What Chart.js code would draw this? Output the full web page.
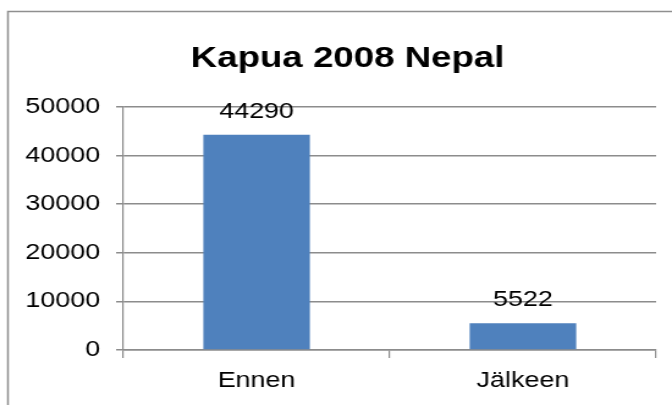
<!DOCTYPE html>
<html>
<head>
<meta charset="utf-8">
<script src="https://cdn.jsdelivr.net/npm/chart.js@4/dist/chart.umd.min.js"></script>
<style>
	html, body { margin: 0; padding: 0; background: #fff; }
	#chart { display: block; }
</style>
</head>
<body>
<!-- drawn narrower and widened by CSS, so the text gets the wide look of the original export -->
<canvas id="chart" width="550" height="405" style="width:672px;height:405px"></canvas>
<script>
// Chart data
const categories = ['Ennen', 'Jälkeen'];
const values = [44290, 5522];
const yTicks = [0, 10000, 20000, 30000, 40000, 50000];
const chartTitle = 'Kapua 2008 Nepal';

const FONT = '"Liberation Sans", Arial, sans-serif';
const GRID = '#8c8c8c';

// White background, thin grey frame (right and bottom edges run off the page) and the title
const frame = {
	id: 'frame',
	beforeDraw(chart) {
		const ctx = chart.ctx;
		ctx.save();
		ctx.fillStyle = '#fff';
		ctx.fillRect(0, 0, chart.width, chart.height);
		ctx.strokeStyle = '#8f8f8f';
		ctx.lineWidth = 1.5;
		ctx.strokeRect(6.5, 11.5, chart.width + 20, chart.height + 20);

		ctx.fillStyle = '#000';
		ctx.font = `bold 30px ${FONT}`;
		ctx.textAlign = 'center';
		ctx.textBaseline = 'alphabetic';
		ctx.fillText(chartTitle, 284.5, 67);
		ctx.restore();
	}
};

// Value printed above every bar
const barValues = {
	id: 'barValues',
	afterDatasetsDraw(chart) {
		const ctx = chart.ctx;
		const meta = chart.getDatasetMeta(0);
		ctx.save();
		ctx.font = `22px ${FONT}`;
		ctx.fillStyle = '#000';
		ctx.textAlign = 'center';
		ctx.textBaseline = 'alphabetic';
		meta.data.forEach((bar, i) => {
			ctx.fillText(String(values[i]), bar.x, bar.y - 17);
		});
		ctx.restore();
	}
};

new Chart(document.getElementById('chart'), {
	type: 'bar',
	data: {
		labels: categories,
		datasets: [{
			data: values,
			backgroundColor: '#4f81bd',
			borderWidth: 0,
			barPercentage: 0.4,
			categoryPercentage: 1
		}]
	},
	plugins: [frame, barValues],
	options: {
		responsive: false,
		animation: false,
		layout: { padding: { left: 10, right: 13, top: 107, bottom: 15 } },
		plugins: {
			legend: { display: false },
			tooltip: { enabled: false },
			title: { display: false }
		},
		scales: {
			x: {
				afterFit(scale) { scale.height = 40; },
				grid: {
					offset: true,
					drawOnChartArea: false,
					tickLength: 8,
					color: GRID,
					lineWidth: 1.2
				},
				border: { color: GRID, width: 1.5 },
				ticks: {
					color: '#000',
					padding: 10,
					font: { family: FONT, size: 22 }
				}
			},
			y: {
				min: 0,
				max: 50000,
				afterFit(scale) { scale.width = 91; },
				afterBuildTicks(scale) {
					scale.ticks = yTicks.map(v => ({ value: v }));
				},
				grid: {
					color: GRID,
					lineWidth: 1.5,
					tickLength: 6
				},
				border: { color: GRID, width: 1.2 },
				ticks: {
					color: '#000',
					padding: 13,
					font: { family: FONT, size: 22 },
					callback: v => String(v)
				}
			}
		}
	}
});
</script>
</body>
</html>
